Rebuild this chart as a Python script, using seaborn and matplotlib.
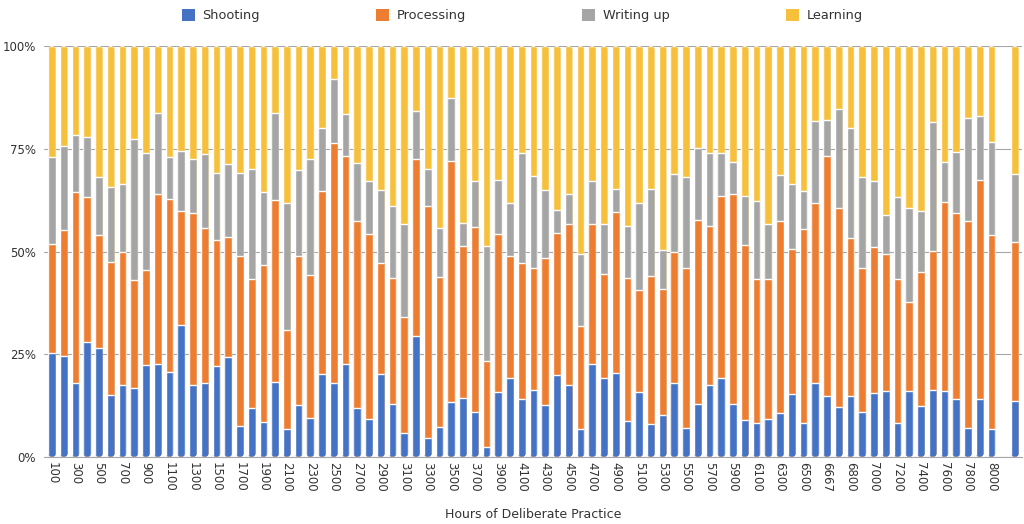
import numpy as np
import pandas as pd
import matplotlib
matplotlib.use("Agg")
import matplotlib.pyplot as plt
import seaborn as sns
from matplotlib.patches import Patch, Polygon

# Hours of deliberate practice (category labels), last two slots have no label
hours = ["100", "200", "300", "400", "500", "600", "700", "800", "900", "1000",
         "1100", "1200", "1300", "1400", "1500", "1600", "1700", "1800", "1900", "2000",
         "2100", "2200", "2300", "2400", "2500", "2600", "2700", "2800", "2900", "3000",
         "3100", "3200", "3300", "3400", "3500", "3600", "3700", "3800", "3900", "4000",
         "4100", "4200", "4300", "4400", "4500", "4600", "4700", "4800", "4900", "5000",
         "5100", "5200", "5300", "5400", "5500", "5600", "5700", "5800", "5900", "6000",
         "6100", "6200", "6300", "6400", "6500", "6600", "6667", "6700", "6800", "6900",
         "7000", "7100", "7200", "7300", "7400", "7500", "7600", "7700", "7800", "7900",
         "8000", "", " "]

# share of time (%) per bucket
shooting = [25.3, 24.5, 17.9, 27.9, 26.5, 15.0, 17.6, 16.8, 22.3, 22.6,
            20.7, 32.1, 17.4, 17.9, 22.1, 24.4, 7.5, 12.0, 8.5, 18.3,
            6.8, 12.6, 9.5, 20.3, 17.9, 22.6, 11.9, 9.3, 20.1, 13.0,
            5.8, 29.4, 4.5, 7.3, 13.4, 14.4, 11.0, 2.4, 15.8, 19.2,
            14.2, 16.4, 12.6, 19.9, 17.6, 6.9, 22.6, 19.2, 20.5, 8.7,
            15.8, 8.1, 10.3, 18.1, 7.1, 13.0, 17.4, 19.2, 12.8, 9.1,
            8.3, 9.3, 10.6, 15.3, 8.3, 18.0, 14.8, 12.2, 14.8, 11.0,
            15.6, 16.0, 8.3, 16.0, 12.4, 16.2, 16.0, 14.0, 7.1, 14.2,
            6.9, np.nan, 13.6]
processing = [26.6, 30.7, 46.6, 35.4, 27.4, 32.5, 32.3, 26.2, 23.2, 41.3,
              42.0, 27.8, 41.9, 37.9, 30.8, 29.2, 41.4, 31.4, 38.3, 44.2,
              24.2, 36.3, 34.9, 44.5, 58.6, 50.6, 45.6, 44.9, 27.1, 30.6,
              28.3, 43.2, 56.6, 36.5, 58.7, 37.0, 45.0, 20.9, 38.4, 29.7,
              33.1, 29.6, 35.9, 34.7, 39.0, 25.0, 34.2, 25.4, 39.2, 34.9,
              24.8, 36.0, 30.5, 31.8, 38.8, 44.6, 38.8, 44.4, 51.2, 42.6,
              35.1, 34.1, 46.9, 35.2, 47.1, 43.9, 58.4, 48.3, 38.6, 34.9,
              35.4, 33.3, 35.1, 21.7, 32.5, 33.9, 46.1, 45.3, 50.3, 53.2,
              47.1, np.nan, 38.8]
writing = [21.0, 20.4, 13.8, 14.5, 14.3, 18.1, 16.5, 34.4, 28.4, 19.9,
           10.2, 14.5, 13.1, 17.9, 16.1, 17.7, 20.1, 26.6, 17.6, 21.3,
           30.8, 20.9, 28.2, 15.2, 15.4, 10.2, 14.1, 13.0, 17.7, 17.5,
           22.7, 11.7, 8.9, 12.0, 15.2, 5.6, 11.1, 28.0, 13.3, 13.0,
           26.6, 22.3, 16.4, 5.6, 7.3, 17.4, 10.4, 12.2, 5.6, 12.7,
           21.1, 21.0, 9.5, 18.9, 22.3, 17.5, 17.8, 10.4, 7.8, 11.8,
           18.9, 13.3, 11.1, 15.9, 9.4, 19.9, 8.8, 24.2, 26.7, 22.3,
           16.1, 9.5, 19.9, 22.8, 14.9, 31.5, 9.7, 15.0, 25.1, 15.6,
           22.7, np.nan, 16.4]
learning = [27.1, 24.4, 21.7, 22.2, 31.8, 34.4, 33.6, 22.6, 26.1, 16.2,
            27.1, 25.6, 27.6, 26.3, 31.0, 28.7, 31.0, 30.0, 35.6, 16.2,
            38.2, 30.2, 27.4, 20.0, 8.1, 16.6, 28.4, 32.8, 35.1, 38.9,
            43.2, 15.7, 30.0, 44.2, 12.7, 43.0, 32.9, 48.7, 32.5, 38.1,
            26.1, 31.7, 35.1, 39.8, 36.1, 50.7, 32.8, 43.2, 34.7, 43.7,
            38.3, 34.9, 49.7, 31.2, 31.8, 24.9, 26.0, 26.0, 28.2, 36.5,
            37.7, 43.3, 31.4, 33.6, 35.2, 18.2, 18.0, 15.3, 19.9, 31.8,
            32.9, 41.2, 36.7, 39.5, 40.2, 18.4, 28.2, 25.7, 17.5, 17.0,
            23.3, np.nan, 31.2]

series = ["Shooting", "Processing", "Writing up", "Learning"]
colors = ["#4472C4", "#ED7D31", "#A5A5A5", "#F6C03D"]

df = pd.DataFrame({"hours": hours, "Shooting": shooting, "Processing": processing,
                   "Writing up": writing, "Learning": learning})
parts = df[series].div(df[series].sum(axis=1), axis=0)
cum = parts.cumsum(axis=1)

sns.set_style("white")
plt.rcParams["font.family"] = ["DejaVu Sans"]

fig = plt.figure(figsize=(10.24, 5.24), dpi=100)
ax_box = [0.043, 0.128, 0.955, 0.784]
ax = fig.add_axes(ax_box)

bar_w = 0.66
# stacked bars: draw cumulative totals from the top layer down
for name, col in zip(series[::-1], colors[::-1]):
    sns.barplot(x=df["hours"], y=cum[name], order=hours, color=col, saturation=1,
                width=bar_w, edgecolor="white", linewidth=1.0, ax=ax, zorder=3)

xlim = (-0.68, 82.6)
ax.set_ylim(0, 1)
ax.set_xlim(*xlim)

# round the ends of each bar: clip its pieces with a capsule outline
px_x = ax_box[2] * 1024 / (xlim[1] - xlim[0])
px_y = ax_box[3] * 524
rx = bar_w / 2
ry = rx * px_x / px_y
t = np.linspace(0, np.pi, 20)
for i in range(len(hours)):
    top = cum["Learning"][i]
    if np.isnan(top):
        continue
    xs = np.concatenate([i + rx * np.cos(t), i - rx * np.cos(t)])
    ys = np.concatenate([top - ry + ry * np.sin(t), ry - ry * np.sin(t)])
    clip = Polygon(np.column_stack([xs, ys]), closed=True, transform=ax.transData)
    for p in ax.patches:
        if abs(p.get_x() + p.get_width() / 2 - i) < 0.1:
            p.set_clip_path(clip)

ax.set_yticks([0, 0.25, 0.5, 0.75, 1.0])
ax.set_yticklabels(["0%", "25%", "50%", "75%", "100%"], fontsize=8.5, color="#333333")
ax.yaxis.grid(True, color="#a6a6a6", linewidth=0.8, zorder=0)
ax.set_axisbelow(True)
for s in ["top", "right", "left"]:
    ax.spines[s].set_visible(False)
ax.spines["bottom"].set_color("#a6a6a6")
ax.spines["bottom"].set_zorder(5)

ticks = list(range(0, len(hours), 2))
ax.set_xticks(ticks)
ax.set_xticklabels([hours[i] for i in ticks], rotation=-90, fontsize=8.5, color="#333333")
ax.tick_params(axis="both", length=0, pad=6)
ax.tick_params(axis="x", pad=4)
ax.set_xlabel("Hours of Deliberate Practice", fontsize=9, color="#333333", labelpad=11)
ax.set_ylabel("")

handles = [Patch(facecolor=c, edgecolor="none", label=n) for n, c in zip(series, colors)]
fig.legend(handles=handles, loc="upper left", bbox_to_anchor=(0.166, 1.005, 0.688, 0),
           mode="expand", ncol=4, frameon=False, fontsize=9.3, handlelength=1.0,
           handleheight=1.0, handletextpad=0.6, labelcolor="#333333")

fig.savefig("out.png", dpi=100)
